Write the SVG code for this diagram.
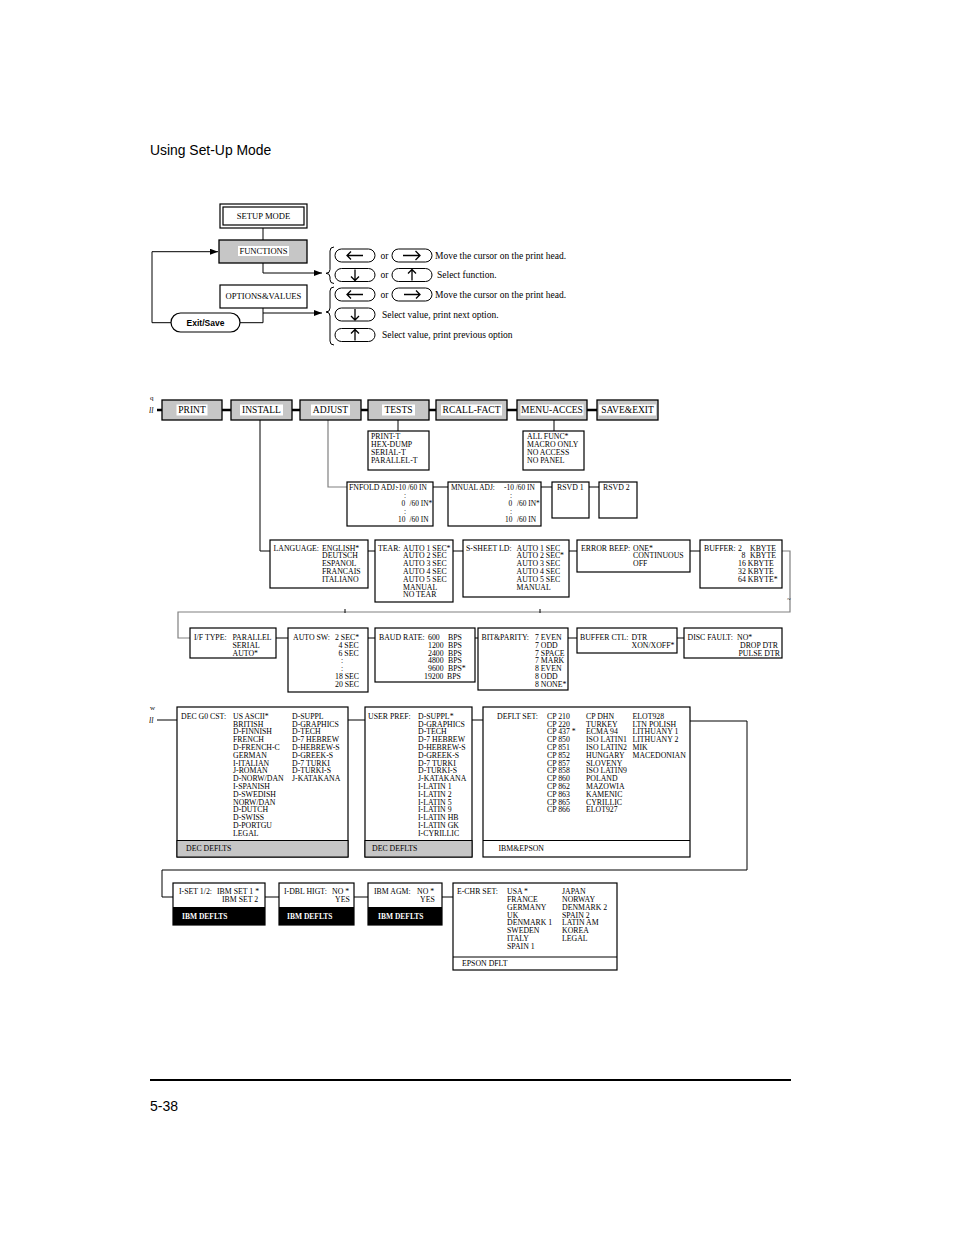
<svg xmlns="http://www.w3.org/2000/svg" width="954" height="1235" viewBox="0 0 954 1235">
<style>
text{font-family:"Liberation Serif","Times New Roman",serif;fill:#000}
.s{font-size:7.8px}
.a{font-size:7.4px}
.m{font-size:9.5px}
.l{font-size:8.6px}
.k{font-size:9.5px}
.sans{font-family:"Liberation Sans",Arial,sans-serif}
.box{fill:#fff;stroke:#000;stroke-width:1.2}
.gbox{fill:#c6c6c6;stroke:#000;stroke-width:1.3}
.lbl{fill:#fff}
.ln{fill:none;stroke:#000;stroke-width:1}
.gl{fill:none;stroke:#808080;stroke-width:1.2}
.tk{fill:none;stroke:#000;stroke-width:2.5}
.pill{fill:#fff;stroke:#000;stroke-width:1}
.ar{fill:none;stroke:#000;stroke-width:1.3}
.foot{fill:#c6c6c6;stroke:#000;stroke-width:1}
.blk{fill:#000}
.wb{fill:#fff;font-weight:bold;font-size:7.5px}
</style>
<defs>
<marker id="ah" markerWidth="8" markerHeight="6" refX="8" refY="3" orient="auto" markerUnits="userSpaceOnUse"><path d="M0,0 L8,3 L0,6 z" fill="#000"/></marker>
</defs>

<text class="sans" x="150" y="155" font-size="13.9">Using Set-Up Mode</text>

<!-- legend -->
<g id="connectors-legend">
<path class="ln" d="M263,228 V240"/>
<path class="ln" d="M263,263 V273 H322" marker-end="url(#ah)"/>
<path class="ln" d="M263,308 V322.7 H240"/>
<path class="ln" d="M263,313 H322" marker-end="url(#ah)"/>
<path class="ln" d="M171,322.7 H152 V251.7 H218" marker-end="url(#ah)"/>
<path class="ln" d="M334,247 Q330,247 330,251 V269.5 Q330,273.3 326,273.3 Q330,273.3 330,277 V279.5 Q330,283.5 334,283.5"/>
<path class="ln" d="M334,287 Q330,287 330,291 V308 Q330,312 326,312 Q330,312 330,316 V341 Q330,345 334,345"/>
</g>
<g id="setup-mode">
<rect class="box" x="220" y="204" width="87" height="24"/>
<rect class="box" x="223" y="207" width="81" height="18"/>
<text class="l" x="263.5" y="218.5" text-anchor="middle">SETUP MODE</text>
</g>
<g id="functions">
<rect class="gbox" x="219" y="240" width="88" height="23"/>
<rect class="lbl" x="238" y="246" width="51" height="10"/>
<text class="l" x="263.5" y="254" text-anchor="middle">FUNCTIONS</text>
</g>
<g id="options-values">
<rect class="box" x="220" y="285" width="87" height="23"/>
<text class="l" x="263.5" y="299" text-anchor="middle">OPTIONS&amp;VALUES</text>
</g>
<g id="exit-save">
<rect class="box" x="171" y="313" width="69" height="19" rx="9.5"/>
<text class="sans" x="205.5" y="326" font-size="8.5" font-weight="bold" text-anchor="middle">Exit/Save</text>
</g>
<g id="keys">
<rect class="pill" x="335" y="249" width="40" height="13" rx="6.5"/>
<path class="ar" d="M347,255.5 H363 M351,251.5 L347,255.5 L351,259.5"/>
<text class="k" x="380.5" y="258.5">or</text>
<rect class="pill" x="392" y="249" width="40" height="13" rx="6.5"/>
<path class="ar" stroke-width="2" d="M403,255.5 H420 M415.5,251 L420,255.5 L415.5,260"/>
<text class="k" x="435" y="258.5">Move the cursor on the print head.</text>

<rect class="pill" x="335" y="268.5" width="40" height="13" rx="6.5"/>
<path class="ar" d="M355,269.5 V280.5 M351,276.5 L355,280.5 L359,276.5"/>
<text class="k" x="380.5" y="278">or</text>
<rect class="pill" x="392" y="268.5" width="40" height="13" rx="6.5"/>
<path class="ar" d="M412,269.5 V280.5 M408,273.5 L412,269.5 L416,273.5"/>
<text class="k" x="437" y="278">Select function.</text>

<rect class="pill" x="335" y="288" width="40" height="13" rx="6.5"/>
<path class="ar" d="M347,294.5 H363 M351,290.5 L347,294.5 L351,298.5"/>
<text class="k" x="380.5" y="297.5">or</text>
<rect class="pill" x="392" y="288" width="40" height="13" rx="6.5"/>
<path class="ar" d="M404,294.5 H420 M416,290.5 L420,294.5 L416,298.5"/>
<text class="k" x="435" y="297.5">Move the cursor on the print head.</text>

<rect class="pill" x="335" y="308" width="40" height="13" rx="6.5"/>
<path class="ar" d="M355,309 V320 M351,316 L355,320 L359,316"/>
<text class="k" x="382" y="317.5">Select value, print next option.</text>

<rect class="pill" x="335" y="328.5" width="40" height="13" rx="6.5"/>
<path class="ar" d="M355,329.5 V340.5 M351,333.5 L355,329.5 L359,333.5"/>
<text class="k" x="382" y="338">Select value, print previous option</text>
</g>

<!-- main menu connectors -->
<g id="connectors">
<path class="tk" d="M157,410 H162 M222,410 H231 M292,410 H300 M361,410 H368 M429,410 H436 M507,410 H517 M587,410 H597"/>
<path class="ln" d="M260,420 V551 H270"/>
<path class="gl" d="M328,420 V487 H347"/>
<path class="ln" d="M398,420 V431 M554,420 V431"/>
<path class="ln" d="M433,487 H448 M541,487 H552 M589,487 H599"/>
<path class="ln" d="M368,551 H375 M453,551 H463 M569,551 H577 M690,551 H700"/>
<path class="gl" d="M782,551 H790 V612 H178 V638 H190"/>
<path class="ln" d="M345,609 V613 M540,609 V613"/>
<path class="ln" d="M276,638 H288 M368,638 H375 M475,638 H478 M568,638 H577 M677,638 H684"/>
<path class="ln" d="M157,720 H177 M348,720 H365 M472,720 H483"/>
<path class="ln" d="M690,721 H747 V870 H162 V897 H173"/>
<path class="ln" d="M265,897 H279 M354,897 H368 M442,897 H453"/>
</g>
<text x="787" y="601" font-size="7">~</text>
<text x="150" y="400" font-size="7">q</text>
<text x="149" y="413" font-size="8" font-style="italic">ll</text>
<text x="150" y="710" font-size="7">w</text>
<text x="149" y="723" font-size="8" font-style="italic">ll</text>

<!-- menu boxes -->
<g id="print"><rect class="gbox" x="162" y="400" width="60" height="20"/><rect class="lbl" x="176.5" y="404.5" width="31" height="11"/><text class="m" x="192" y="413.3" text-anchor="middle">PRINT</text></g>
<g id="install"><rect class="gbox" x="231" y="400" width="61" height="20"/><rect class="lbl" x="240" y="404.5" width="43" height="11"/><text class="m" x="261.5" y="413.3" text-anchor="middle">INSTALL</text></g>
<g id="adjust"><rect class="gbox" x="300" y="400" width="61" height="20"/><rect class="lbl" x="311" y="404.5" width="39" height="11"/><text class="m" x="330.5" y="413.3" text-anchor="middle">ADJUST</text></g>
<g id="tests"><rect class="gbox" x="368" y="400" width="61" height="20"/><rect class="lbl" x="382" y="404.5" width="33" height="11"/><text class="m" x="398.5" y="413.3" text-anchor="middle">TESTS</text></g>
<g id="rcall-fact"><rect class="gbox" x="436" y="400" width="71" height="20"/><rect class="lbl" x="441" y="404.5" width="61" height="11"/><text class="m" x="471.5" y="413.3" text-anchor="middle">RCALL-FACT</text></g>
<g id="menu-acces"><rect class="gbox" x="517" y="400" width="70" height="20"/><rect class="lbl" x="520.5" y="404.5" width="63" height="11"/><text class="m" x="552" y="413.3" text-anchor="middle">MENU-ACCES</text></g>
<g id="save-exit"><rect class="gbox" x="597" y="400" width="61" height="20"/><rect class="lbl" x="599" y="404.5" width="57" height="11"/><text class="m" x="627.5" y="413.3" text-anchor="middle">SAVE&amp;EXIT</text></g>

<!-- tests / menu sub -->
<g id="tests-list"><rect class="box" x="368" y="431" width="61" height="39"/>
<text class="s" x="371" y="438.5">PRINT-T<tspan x="371" dy="8">HEX-DUMP</tspan><tspan x="371" dy="8">SERIAL-T</tspan><tspan x="371" dy="8">PARALLEL-T</tspan></text></g>
<g id="menu-list"><rect class="box" x="523" y="431" width="61" height="39"/>
<text class="s" x="527" y="438.5">ALL FUNC*<tspan x="527" dy="8">MACRO ONLY</tspan><tspan x="527" dy="8">NO ACCESS</tspan><tspan x="527" dy="8">NO PANEL</tspan></text></g>

<!-- adjust row -->
<g id="fnfold"><rect class="box" x="347" y="482" width="86" height="44"/>
<text class="s" x="349" y="489.6" font-size="7">FNFOLD ADJ:</text><text class="a" x="396" y="489.6">-10 /60 IN</text>
<text class="a" x="404" y="497.5">:</text>
<text class="a" x="401.5" y="506">0</text><text class="a" x="409.5" y="506">/60 IN*</text>
<text class="a" x="404" y="513.5">:</text>
<text class="a" x="398" y="522">10</text><text class="a" x="409.5" y="522">/60 IN</text></g>
<g id="mnual"><rect class="box" x="448" y="482" width="93" height="44" stroke="#777"/>
<text class="a" x="451" y="489.6">MNUAL ADJ:</text><text class="a" x="504" y="489.6">-10 /60 IN</text>
<text class="a" x="510" y="497.5">:</text>
<text class="a" x="508.5" y="506">0</text><text class="a" x="517" y="506">/60 IN*</text>
<text class="a" x="510" y="513.5">:</text>
<text class="a" x="505" y="522">10</text><text class="a" x="517" y="522">/60 IN</text></g>
<g id="rsvd1"><rect class="box" x="552" y="482" width="37" height="36"/><text class="s" x="557" y="489.6">RSVD 1</text></g>
<g id="rsvd2"><rect class="box" x="599" y="482" width="38" height="36"/><text class="s" x="603" y="489.6">RSVD 2</text></g>

<!-- install row -->
<g id="language"><rect class="box" x="270" y="540" width="98" height="48"/>
<text class="s" x="273.5" y="550.5">LANGUAGE:</text>
<text class="s" x="322" y="550.5">ENGLISH*<tspan x="322" dy="7.8">DEUTSCH</tspan><tspan x="322" dy="7.8">ESPANOL</tspan><tspan x="322" dy="7.8">FRANCAIS</tspan><tspan x="322" dy="7.8">ITALIANO</tspan></text></g>
<g id="tear"><rect class="box" x="375" y="540" width="78" height="62"/>
<text class="s" x="378" y="550.5">TEAR:</text>
<text class="s" x="403" y="550.5">AUTO 1 SEC*<tspan x="403" dy="7.8">AUTO 2  SEC</tspan><tspan x="403" dy="7.8">AUTO 3 SEC</tspan><tspan x="403" dy="7.8">AUTO 4  SEC</tspan><tspan x="403" dy="7.8">AUTO 5 SEC</tspan><tspan x="403" dy="7.8">MANUAL</tspan><tspan x="403" dy="7.8">NO TEAR</tspan></text></g>
<g id="s-sheet"><rect class="box" x="463" y="540" width="106" height="57"/>
<text class="s" x="466" y="550.5">S-SHEET LD:</text>
<text class="s" x="516.5" y="550.5">AUTO 1 SEC<tspan x="516.5" dy="7.8">AUTO 2  SEC*</tspan><tspan x="516.5" dy="7.8">AUTO 3 SEC</tspan><tspan x="516.5" dy="7.8">AUTO 4  SEC</tspan><tspan x="516.5" dy="7.8">AUTO 5 SEC</tspan><tspan x="516.5" dy="7.8">MANUAL</tspan></text></g>
<g id="error-beep"><rect class="box" x="577" y="540" width="113" height="32"/>
<text class="s" x="581" y="550.5">ERROR BEEP:</text>
<text class="s" x="633" y="550.5">ONE*<tspan x="633" dy="7.8">CONTINUOUS</tspan><tspan x="633" dy="7.8">OFF</tspan></text></g>
<g id="buffer"><rect class="box" x="700" y="540" width="82" height="48"/>
<text class="s" x="704" y="550.5">BUFFER:</text>
<text class="s" x="738" y="550.5">2</text><text class="s" x="750" y="550.5">KBYTE</text>
<text class="s" x="741.5" y="558.3">8</text><text class="s" x="750" y="558.3">KBYTE</text>
<text class="s" x="738" y="566.1">16 KBYTE<tspan x="738" dy="7.8">32 KBYTE</tspan><tspan x="738" dy="7.8">64 KBYTE*</tspan></text></g>

<!-- interface row -->
<g id="if-type"><rect class="box" x="190" y="628" width="86" height="30"/>
<text class="s" x="194" y="640">I/F TYPE:</text>
<text class="s" x="232.5" y="640">PARALLEL<tspan x="232.5" dy="7.8">SERIAL</tspan><tspan x="232.5" dy="7.8">AUTO*</tspan></text></g>
<g id="auto-sw"><rect class="box" x="288" y="628" width="80" height="64"/>
<text class="s" x="293" y="640">AUTO SW:</text>
<text class="s" x="335" y="640">2 SEC*</text>
<text class="s" x="338.5" y="647.8">4 SEC<tspan x="338.5" dy="7.8">6 SEC</tspan></text>
<text class="s" x="341" y="663.4">:<tspan x="341" dy="7.8">:</tspan></text>
<text class="s" x="335" y="679">18 SEC<tspan x="335" dy="7.8">20 SEC</tspan></text></g>
<g id="baud"><rect class="box" x="375" y="628" width="100" height="54"/>
<text class="s" x="379" y="640">BAUD RATE:</text>
<text class="s" x="428" y="640">600<tspan x="428" dy="7.8">1200</tspan><tspan x="428" dy="7.8">2400</tspan><tspan x="428" dy="7.8">4800</tspan><tspan x="428" dy="7.8">9600</tspan><tspan x="424" dy="7.8">19200</tspan></text>
<text class="s" x="448" y="640">BPS<tspan x="448" dy="7.8">BPS</tspan><tspan x="448" dy="7.8">BPS</tspan><tspan x="448" dy="7.8">BPS</tspan><tspan x="448" dy="7.8">BPS*</tspan><tspan x="447" dy="7.8">BPS</tspan></text></g>
<g id="bit-parity"><rect class="box" x="478" y="628" width="90" height="62"/>
<text class="s" x="481.5" y="640">BIT&amp;PARITY:</text>
<text class="s" x="535" y="640">7 EVEN<tspan x="535" dy="7.8">7 ODD</tspan><tspan x="535" dy="7.8">7 SPACE</tspan><tspan x="535" dy="7.8">7 MARK</tspan><tspan x="535" dy="7.8">8 EVEN</tspan><tspan x="535" dy="7.8">8 ODD</tspan><tspan x="535" dy="7.8">8 NONE*</tspan></text></g>
<g id="buffer-ctl"><rect class="box" x="577" y="628" width="100" height="25"/>
<text class="s" x="580" y="640">BUFFER CTL:</text>
<text class="s" x="631.5" y="640">DTR<tspan x="631.5" dy="7.8">XON/XOFF*</tspan></text></g>
<g id="disc-fault"><rect class="box" x="684" y="628" width="98" height="30"/>
<text class="s" x="687.5" y="640">DISC FAULT:</text>
<text class="s" x="737" y="640">NO*</text>
<text class="s" x="740" y="647.8">DROP DTR</text>
<text class="s" x="738.5" y="655.6">PULSE DTR</text></g>

<!-- character set row -->
<g id="dec-g0"><rect class="box" x="177" y="707" width="171" height="150"/>
<rect class="foot" x="177" y="840.5" width="171" height="16.5"/>
<text class="s" x="186" y="851">DEC DEFLTS</text>
<text class="s" x="181" y="718.7">DEC G0 CST:</text>
<text class="s" x="233" y="718.7">US ASCII*<tspan x="233" dy="7.8">BRITISH</tspan><tspan x="233" dy="7.8">D-FINNISH</tspan><tspan x="233" dy="7.8">FRENCH</tspan><tspan x="233" dy="7.8">D-FRENCH-C</tspan><tspan x="233" dy="7.8">GERMAN</tspan><tspan x="233" dy="7.8">I-ITALIAN</tspan><tspan x="233" dy="7.8">J-ROMAN</tspan><tspan x="233" dy="7.8">D-NORW/DAN</tspan><tspan x="233" dy="7.8">I-SPANISH</tspan><tspan x="233" dy="7.8">D-SWEDISH</tspan><tspan x="233" dy="7.8">NORW/DAN</tspan><tspan x="233" dy="7.8">D-DUTCH</tspan><tspan x="233" dy="7.8">D-SWISS</tspan><tspan x="233" dy="7.8">D-PORTGU</tspan><tspan x="233" dy="7.8">LEGAL</tspan></text>
<text class="s" x="292" y="718.7">D-SUPPL<tspan x="292" dy="7.8">D-GRAPHICS</tspan><tspan x="292" dy="7.8">D-TECH</tspan><tspan x="292" dy="7.8">D-7 HEBREW</tspan><tspan x="292" dy="7.8">D-HEBREW-S</tspan><tspan x="292" dy="7.8">D-GREEK-S</tspan><tspan x="292" dy="7.8">D-7 TURKI</tspan><tspan x="292" dy="7.8">D-TURKI-S</tspan><tspan x="292" dy="7.8">J-KATAKANA</tspan></text></g>
<g id="user-pref"><rect class="box" x="365" y="707" width="107" height="150"/>
<rect class="foot" x="365" y="840.5" width="107" height="16.5"/>
<text class="s" x="372" y="851">DEC DEFLTS</text>
<text class="s" x="368" y="718.7">USER PREF:</text>
<text class="s" x="418" y="718.7">D-SUPPL*<tspan x="418" dy="7.8">D-GRAPHICS</tspan><tspan x="418" dy="7.8">D-TECH</tspan><tspan x="418" dy="7.8">D-7 HEBREW</tspan><tspan x="418" dy="7.8">D-HEBREW-S</tspan><tspan x="418" dy="7.8">D-GREEK-S</tspan><tspan x="418" dy="7.8">D-7 TURKI</tspan><tspan x="418" dy="7.8">D-TURKI-S</tspan><tspan x="418" dy="7.8">J-KATAKANA</tspan><tspan x="418" dy="7.8">I-LATIN 1</tspan><tspan x="418" dy="7.8">I-LATIN 2</tspan><tspan x="418" dy="7.8">I-LATIN 5</tspan><tspan x="418" dy="7.8">I-LATIN 9</tspan><tspan x="418" dy="7.8">I-LATIN HB</tspan><tspan x="418" dy="7.8">I-LATIN GK</tspan><tspan x="418" dy="7.8">I-CYRILLIC</tspan></text></g>
<g id="deflt-set"><rect class="box" x="483" y="707" width="207" height="150"/>
<path class="ln" d="M483,840.5 H690"/>
<text class="s" x="498.5" y="851">IBM&amp;EPSON</text>
<text class="s" x="497" y="718.7">DEFLT SET:</text>
<text class="s" x="547" y="718.7">CP 210<tspan x="547" dy="7.8">CP 220</tspan><tspan x="547" dy="7.8">CP 437 *</tspan><tspan x="547" dy="7.8">CP 850</tspan><tspan x="547" dy="7.8">CP 851</tspan><tspan x="547" dy="7.8">CP 852</tspan><tspan x="547" dy="7.8">CP 857</tspan><tspan x="547" dy="7.8">CP 858</tspan><tspan x="547" dy="7.8">CP 860</tspan><tspan x="547" dy="7.8">CP 862</tspan><tspan x="547" dy="7.8">CP 863</tspan><tspan x="547" dy="7.8">CP 865</tspan><tspan x="547" dy="7.8">CP 866</tspan></text>
<text class="s" x="586" y="718.7">CP DHN<tspan x="586" dy="7.8">TURKEY</tspan><tspan x="586" dy="7.8">ECMA 94</tspan><tspan x="586" dy="7.8">ISO LATIN1</tspan><tspan x="586" dy="7.8">ISO LATIN2</tspan><tspan x="586" dy="7.8">HUNGARY</tspan><tspan x="586" dy="7.8">SLOVENY</tspan><tspan x="586" dy="7.8">ISO LATIN9</tspan><tspan x="586" dy="7.8">POLAND</tspan><tspan x="586" dy="7.8">MAZOWIA</tspan><tspan x="586" dy="7.8">KAMENIC</tspan><tspan x="586" dy="7.8">CYRILLIC</tspan><tspan x="586" dy="7.8">ELOT927</tspan></text>
<text class="s" x="632.5" y="718.7">ELOT928<tspan x="632.5" dy="7.8">LTN POLISH</tspan><tspan x="632.5" dy="7.8">LITHUANY 1</tspan><tspan x="632.5" dy="7.8">LITHUANY 2</tspan><tspan x="632.5" dy="7.8">MIK</tspan><tspan x="632.5" dy="7.8">MACEDONIAN</tspan></text></g>

<!-- IBM / Epson row -->
<g id="i-set"><rect class="box" x="173" y="883" width="92" height="42"/>
<rect class="blk" x="173" y="907" width="92" height="18"/>
<text class="wb" x="182" y="918.5">IBM DEFLTS</text>
<text class="s" x="179" y="894">I-SET 1/2:</text>
<text class="s" x="217" y="894">IBM SET 1 *</text>
<text class="s" x="222" y="901.8">IBM SET 2</text></g>
<g id="i-dbl-higt"><rect class="box" x="279" y="883" width="75" height="42"/>
<rect class="blk" x="279" y="907" width="75" height="18"/>
<text class="wb" x="287" y="918.5">IBM DEFLTS</text>
<text class="s" x="284" y="894">I-DBL HIGT:</text>
<text class="s" x="332" y="894">NO *</text>
<text class="s" x="335" y="901.8">YES</text></g>
<g id="ibm-agm"><rect class="box" x="368" y="883" width="74" height="42"/>
<rect class="blk" x="368" y="907" width="74" height="18"/>
<text class="wb" x="378" y="918.5">IBM DEFLTS</text>
<text class="s" x="374" y="894">IBM AGM:</text>
<text class="s" x="417" y="894">NO *</text>
<text class="s" x="420" y="901.8">YES</text></g>
<g id="e-chr-set"><rect class="box" x="453" y="883" width="164" height="87"/>
<path class="ln" d="M453,957 H617"/>
<text class="s" x="462" y="965.5">EPSON DFLT</text>
<text class="s" x="457" y="894">E-CHR SET:</text>
<text class="s" x="507" y="894">USA *<tspan x="507" dy="7.85">FRANCE</tspan><tspan x="507" dy="7.85">GERMANY</tspan><tspan x="507" dy="7.85">UK</tspan><tspan x="507" dy="7.85">DENMARK 1</tspan><tspan x="507" dy="7.85">SWEDEN</tspan><tspan x="507" dy="7.85">ITALY</tspan><tspan x="507" dy="7.85">SPAIN 1</tspan></text>
<text class="s" x="562" y="894">JAPAN<tspan x="562" dy="7.85">NORWAY</tspan><tspan x="562" dy="7.85">DENMARK 2</tspan><tspan x="562" dy="7.85">SPAIN 2</tspan><tspan x="562" dy="7.85">LATIN AM</tspan><tspan x="562" dy="7.85">KOREA</tspan><tspan x="562" dy="7.85">LEGAL</tspan></text></g>

<line x1="150" y1="1080" x2="791" y2="1080" stroke="#000" stroke-width="2"/>
<text class="sans" x="150" y="1111" font-size="14">5-38</text>
</svg>
